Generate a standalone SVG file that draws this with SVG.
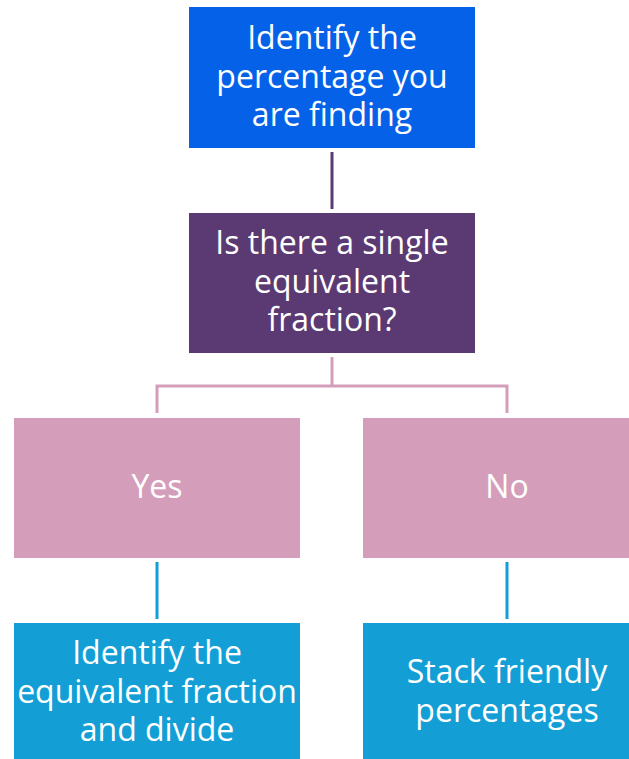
<svg xmlns="http://www.w3.org/2000/svg" width="629" height="759" viewBox="0 0 629 759">
<style>
text{font-family:"Open Sans","Noto Sans","Liberation Sans",sans-serif;font-size:32px;fill:#ffffff;text-anchor:middle}
.c{fill:none;stroke-width:3}
</style>
<rect width="629" height="759" fill="#ffffff"/>
<g id="connectors">
<line class="c" x1="332" y1="152" x2="332" y2="209" stroke="#5B3A73"/>
<polyline class="c" points="332,357 332,386" stroke="#D49EBA"/>
<polyline class="c" points="157,413 157,386 507,386 507,413" stroke="#D49EBA"/>
<line class="c" x1="157" y1="562" x2="157" y2="619" stroke="#139FD6"/>
<line class="c" x1="507" y1="562" x2="507" y2="619" stroke="#139FD6"/>
</g>
<g id="n1">
<rect x="189" y="7" width="286" height="141" fill="#0562E8"/>
<text x="332" y="49">Identify the</text>
<text x="332" y="88">percentage you</text>
<text x="332" y="126">are finding</text>
</g>
<g id="n2">
<rect x="189" y="213" width="286" height="140" fill="#5B3A73"/>
<text x="332" y="254">Is there a single</text>
<text x="332" y="293">equivalent</text>
<text x="332" y="331">fraction?</text>
</g>
<g id="n3">
<rect x="14" y="418" width="286" height="140" fill="#D49EBA"/>
<text x="157" y="498">Yes</text>
</g>
<g id="n4">
<rect x="363" y="418" width="266" height="140" fill="#D49EBA"/>
<text x="507" y="498">No</text>
</g>
<g id="n5">
<rect x="14" y="623" width="286" height="136" fill="#139FD6"/>
<text x="157" y="664">Identify the</text>
<text x="157" y="703">equivalent fraction</text>
<text x="157" y="741">and divide</text>
</g>
<g id="n6">
<rect x="363" y="623" width="266" height="136" fill="#139FD6"/>
<text x="507" y="683">Stack friendly</text>
<text x="507" y="722">percentages</text>
</g>
</svg>
